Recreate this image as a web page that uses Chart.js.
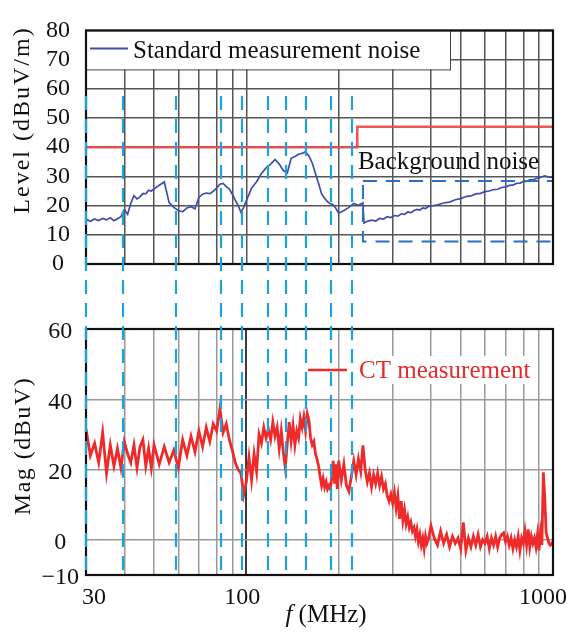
<!DOCTYPE html>
<html>
<head>
<meta charset="utf-8">
<script src="https://cdn.jsdelivr.net/npm/chart.js@4.4.1/dist/chart.umd.min.js"></script>
<style>
  html, body { margin: 0; padding: 0; background: #fff; }
  #wrap { position: relative; width: 571px; height: 633px; }
  #levelCanvas { position: absolute; left: 0; top: 0; }
  #magCanvas { position: absolute; left: 0; top: 300px; }
</style>
</head>
<body>
<div id="wrap">
  <canvas id="levelCanvas" width="571" height="300"></canvas>
  <canvas id="magCanvas" width="571" height="333"></canvas>
</div>
<script>
// ---- Standard measurement noise (dBuV/m) ----
const noiseFreq = [
  30, 31, 32, 33, 34, 35, 36, 37, 38, 39, 40, 41, 42, 43, 44, 45, 46, 47, 48, 49, 50,
  52, 54, 56, 58, 60, 62, 64, 66, 68, 70, 72, 74, 76, 78, 80, 82, 84, 86, 88, 90, 92, 94, 96, 98, 100,
  104, 108, 112, 116, 120, 124, 128, 132, 136, 140, 144, 148, 152, 156, 160, 164, 168, 172, 176, 180, 184, 188, 192, 196, 200,
  208, 216, 224, 232, 240, 242, 248, 256, 264, 272, 280, 288, 296, 304, 312, 320, 328, 336, 344, 352, 360, 368, 376, 384, 392, 400,
  420, 440, 460, 480, 500, 520, 540, 560, 580, 600, 620, 640, 660, 680, 700, 720, 740, 760, 780, 800, 820, 840, 860, 880, 900, 920, 940, 960, 980, 1000
];
const noiseLevel = [
  15.3, 14.6, 15.4, 14.9, 15.6, 15.1, 15.8, 14.8, 15.5, 16.2, 18.6, 17.0, 20.8, 23.4, 22.3, 23.0, 24.2, 24.0, 25.3, 25.0, 25.7,
  27.0, 28.1, 21.0, 19.4, 18.3, 17.9, 19.2, 19.6, 18.9, 22.8, 23.9, 24.3, 24.1, 24.9, 26.0, 27.3, 27.6, 26.5, 25.7, 23.9, 21.9, 20.1, 17.7, 19.4, 21.7,
  26.0, 28.2, 31.0, 32.9, 34.2, 35.8, 34.2, 32.0, 31.2, 36.2, 36.8, 37.6, 37.9, 38.4, 37.0, 34.6, 31.0, 27.6, 24.0, 22.5, 21.3, 20.6, 20.3, 19.0, 17.4,
  18.3, 19.4, 20.7, 20.1, 20.9, 14.0, 14.6, 15.0, 14.7, 15.6, 15.4, 16.2, 15.9, 16.6, 16.4, 17.2, 17.0, 17.8, 17.6, 18.3, 18.7, 18.5, 19.2, 19.0, 19.7, 19.8,
  20.3, 20.9, 21.2, 22.0, 22.4, 23.1, 23.3, 24.0, 24.2, 24.8, 25.0, 25.5, 25.6, 26.2, 26.4, 26.9, 27.0, 27.6, 27.7, 28.2, 28.3, 28.8, 28.8, 29.3, 29.5, 29.9, 30.2, 29.9, 29.7, 29.6
];

// ---- Radiated limit (dBuV/m) ----
const limitFreq = [30, 230, 230, 1000];
const limitLevel = [40, 40, 47, 47];

// ---- Background-noise window ----
const bgBoxFreq = [240, 1000];
const bgBoxLevel = [7.7, 28.4];

// ---- CT measurement (dBuV) ----
const ctFreq = [
  30, 31, 32, 33, 34, 35, 36, 37, 38, 39, 40, 41, 42, 43, 44, 45, 46, 47, 48, 49, 50,
  52, 54, 56, 58, 60, 62, 64, 66, 68, 70, 72, 74, 76, 78, 80, 82, 84, 86, 88, 90, 92, 94, 96, 98, 100,
  102, 104, 106, 108, 110, 112, 114, 116, 118, 120, 122, 124, 126, 128, 130, 132, 134, 136, 138, 140, 142, 144, 146, 148, 150,
  152, 154, 156, 158, 160, 162, 164, 166, 168, 170, 172, 174, 176, 178, 180, 182, 184, 186, 188, 190, 192, 194, 196, 198, 200,
  204, 208, 212, 216, 220, 224, 228, 232, 236, 240, 244, 248, 252, 256, 260, 264, 268, 272, 276, 280, 284, 288, 292, 296, 300,
  304, 308, 312, 316, 320, 324, 328, 332, 336, 340, 344, 348, 352, 356, 360, 364, 368, 372, 376, 380, 384, 388, 392, 396, 400,
  410, 420, 430, 440, 450, 460, 470, 480, 490, 500, 510, 520, 530, 540, 550, 560, 570, 580, 590, 600,
  610, 620, 630, 640, 650, 660, 670, 680, 690, 700, 710, 720, 730, 740, 750, 760, 770, 780, 790, 800,
  810, 820, 830, 840, 850, 860, 870, 880, 890, 900, 910, 920, 930, 940, 950, 960, 970, 980, 990, 1000
];
const ctMag = [
  31.5, 24.0, 27.5, 22.0, 30.5, 19.0, 27.0, 21.0, 26.0, 20.5, 28.0, 24.5, 22.0, 27.0, 20.5, 26.5, 28.5, 21.0, 26.0, 20.5, 27.0,
  21.5, 26.5, 22.0, 25.5, 20.5, 28.5, 24.0, 29.5, 25.0, 31.0, 26.5, 32.0, 28.0, 33.0, 31.0, 37.3, 30.5, 33.0, 28.5, 25.5, 22.0, 20.0, 19.0, 12.8, 16.5,
  23.5, 17.0, 24.5, 19.5, 30.0, 27.5, 32.0, 29.0, 31.5, 28.5, 33.5, 29.5, 32.0, 26.0, 31.0, 25.0, 20.5, 27.5, 33.5, 28.0, 32.5, 27.0, 31.0, 29.0, 34.5,
  32.0, 35.0, 31.0, 35.9, 34.0, 29.0, 27.0, 28.0, 24.5, 23.0, 21.0, 18.0, 15.5, 17.5, 15.0, 16.5, 14.5, 15.5, 14.5, 18.0, 22.5, 16.0, 21.5, 14.5, 22.5,
  17.0, 21.5, 15.5, 13.8, 18.0, 22.5, 18.5, 23.0, 19.5, 26.9, 20.0, 16.5, 19.0, 15.0, 18.5, 16.0, 19.0, 15.5, 18.0, 14.5, 16.0, 12.5, 11.0, 13.0, 10.5,
  13.5, 9.0, 12.5, 6.0, 11.0, 5.5, 8.5, 4.5, 6.5, 3.5, 5.0, 2.5, 3.5, 1.0, 3.0, -0.5, 1.5, -1.5, 0.5, -2.5, 1.0, -1.0, 0.0, 2.0, 4.0,
  0.5, -1.5, 2.5, -1.0, 1.5, -2.0, 1.0, -1.0, 0.5, -2.5, 5.0, -3.0, 0.5, -2.0, 1.0, -1.5, 1.5, -2.0, 0.0, -1.0,
  1.0, -2.5, 0.5, -1.5, 1.0, -2.0, 0.5, 1.5, 2.0, -0.5, 1.0, -1.5, 0.5, -2.5, 0.0, -2.0, 1.0, -3.0, 0.5, -1.0,
  2.5, -1.5, 3.0, -2.0, 1.0, -1.0, 0.5, -2.0, 1.5, -3.0, 2.0, -1.5, 19.2, 12.0, 2.0, 0.5, -1.0, -1.5, -1.0, -1.5
];

// ---- Marker frequencies shared by both panels (MHz) ----
const markerFreq = [30, 39.7, 58.8, 82.5, 96.6, 117.4, 134.4, 156.2, 188.5, 220.5];
const markerTopLevel = 57.5;

// ---- Axes ----
const gridFreq = [40, 50, 60, 70, 80, 90, 100, 200, 300, 400, 500, 600, 700, 800, 900];
const freqTickLabels = [30, 100, 1000];
const levelTicks = [0, 10, 20, 30, 40, 50, 60, 70, 80];
const magTicks = [-10, 0, 20, 40, 60];

const SERIF = '"Liberation Serif", "Times New Roman", serif';
const MARKER_COLOR = '#1ea2dc';
const MARKER_DASH = [14, 9];

function pts(xs, ys) { return xs.map((v, i) => ({ x: v, y: ys[i] })); }
function minusLabel(v) { return v < 0 ? '\u2212' + Math.abs(v) : String(v); }

function drawFrame(ctx, a) {
  ctx.save();
  ctx.setLineDash([]);
  ctx.strokeStyle = '#111';
  ctx.lineWidth = 2.2;
  ctx.strokeRect(a.left, a.top, a.right - a.left, a.bottom - a.top);
  ctx.restore();
}

function drawMarkers(ctx, xScale, y0, y1, offset) {
  ctx.save();
  ctx.strokeStyle = MARKER_COLOR;
  ctx.lineWidth = 2.2;
  ctx.setLineDash(MARKER_DASH);
  ctx.lineDashOffset = offset;
  markerFreq.forEach(f => {
    const px = Math.round(xScale.getPixelForValue(f));
    ctx.beginPath();
    ctx.moveTo(px, y0);
    ctx.lineTo(px, y1);
    ctx.stroke();
  });
  ctx.restore();
}

function drawVerticalTitle(ctx, text, cx, cy, spacing) {
  ctx.save();
  ctx.translate(cx, cy);
  ctx.rotate(-Math.PI / 2);
  ctx.font = '24px ' + SERIF;
  ctx.letterSpacing = spacing;
  ctx.fillStyle = '#111';
  ctx.textAlign = 'center';
  ctx.textBaseline = 'middle';
  ctx.fillText(text, 0, 0);
  ctx.restore();
}

// Upper panel decorations: noise window, legend, frame, markers
const levelDecor = {
  id: 'levelDecor',
  afterDatasetsDraw(chart) {
    const { ctx, chartArea: a, scales: { x, y } } = chart;
    ctx.save();

    // background-noise window
    const bx0 = x.getPixelForValue(bgBoxFreq[0]);
    const bx1 = x.getPixelForValue(bgBoxFreq[1]);
    const by0 = y.getPixelForValue(bgBoxLevel[1]);
    const by1 = y.getPixelForValue(bgBoxLevel[0]);
    ctx.strokeStyle = '#2a6fc0';
    ctx.lineWidth = 2;
    ctx.setLineDash([14, 9]);
    ctx.strokeRect(bx0, by0, bx1 - bx0, by1 - by0);
    ctx.setLineDash([]);

    ctx.fillStyle = '#111';
    ctx.font = '25px ' + SERIF;
    ctx.textAlign = 'left';
    ctx.textBaseline = 'middle';
    ctx.fillText('Background noise', bx0 - 5, y.getPixelForValue(34.8));

    // legend box
    const lw = 364, lh = 39;
    ctx.fillStyle = '#fff';
    ctx.fillRect(a.left, a.top, lw, lh);
    ctx.strokeStyle = '#444';
    ctx.lineWidth = 1;
    ctx.strokeRect(a.left + 0.5, a.top + 0.5, lw, lh);
    ctx.strokeStyle = chart.data.datasets[0].borderColor;
    ctx.lineWidth = 2;
    ctx.beginPath();
    ctx.moveTo(a.left + 4, a.top + 18);
    ctx.lineTo(a.left + 42, a.top + 18);
    ctx.stroke();
    ctx.fillStyle = '#111';
    ctx.font = '25px ' + SERIF;
    ctx.fillText(chart.data.datasets[0].label, a.left + 47, a.top + 21);

    ctx.restore();

    drawFrame(ctx, a);
    drawMarkers(ctx, x, y.getPixelForValue(markerTopLevel), chart.height, 0);

    drawVerticalTitle(ctx, 'Level (dBuV/m)', 23, 120, '2px');
  }
};

const levelChart = new Chart(document.getElementById('levelCanvas'), {
  type: 'line',
  data: {
    datasets: [
      {
        label: 'Standard measurement noise',
        data: pts(noiseFreq, noiseLevel),
        borderColor: '#3c50a8',
        borderWidth: 1.7,
        pointRadius: 0,
        tension: 0
      },
      {
        label: 'Limit',
        data: pts(limitFreq, limitLevel),
        borderColor: 'rgba(238,72,72,0.92)',
        borderWidth: 2.6,
        pointRadius: 0,
        tension: 0
      }
    ]
  },
  options: {
    responsive: false,
    animation: false,
    devicePixelRatio: 1,
    layout: { padding: { top: 16, right: 18, bottom: 36, left: 0 } },
    plugins: { legend: { display: false }, tooltip: { enabled: false } },
    scales: {
      x: {
        type: 'logarithmic', min: 30, max: 1000,
        afterBuildTicks: s => { s.ticks = gridFreq.map(v => ({ value: v })); },
        afterFit: s => { s.height = 0; },
        ticks: { display: false, autoSkip: false },
        grid: { color: '#555', lineWidth: 1.5, drawTicks: false },
        border: { display: false }
      },
      y: {
        min: 0, max: 80,
        afterBuildTicks: s => { s.ticks = levelTicks.map(v => ({ value: v })); },
        afterFit: s => { s.width = 86; },
        ticks: { font: { family: SERIF, size: 24 }, color: '#111', padding: 16, crossAlign: 'center', autoSkip: false, callback: minusLabel },
        grid: { color: '#555', lineWidth: 1.5, drawTicks: false },
        border: { display: false }
      }
    }
  },
  plugins: [levelDecor]
});

// Lower panel decorations: legend, frame, markers, frequency labels
const magDecor = {
  id: 'magDecor',
  afterDatasetsDraw(chart) {
    const { ctx, chartArea: a, scales: { x } } = chart;
    ctx.save();

    // legend entry
    ctx.font = '25px ' + SERIF;
    ctx.textAlign = 'left';
    ctx.textBaseline = 'middle';
    const label = chart.data.datasets[0].label;
    const tw = ctx.measureText(label).width;
    ctx.fillStyle = '#fff';
    ctx.fillRect(357, 56, tw + 4, 28);
    ctx.strokeStyle = chart.data.datasets[0].borderColor;
    ctx.lineWidth = 2.4;
    ctx.beginPath();
    ctx.moveTo(308, 70);
    ctx.lineTo(347, 70);
    ctx.stroke();
    ctx.fillStyle = '#e52b2b';
    ctx.fillText(label, 359, 71);
    ctx.restore();

    drawFrame(ctx, a);

    const topY = levelChart.scales.y.getPixelForValue(markerTopLevel);
    const period = MARKER_DASH[0] + MARKER_DASH[1];
    drawMarkers(ctx, x, 0, a.bottom, (levelChart.height - topY) % period);

    // frequency tick labels
    ctx.save();
    ctx.fillStyle = '#111';
    ctx.font = '24px ' + SERIF;
    ctx.textBaseline = 'middle';
    const align = ['left', 'center', 'right'];
    const shift = [-4, -4, 14];
    freqTickLabels.forEach((v, i) => {
      ctx.textAlign = align[i];
      ctx.fillText(String(v), x.getPixelForValue(v) + shift[i], a.bottom + 23);
    });

    // frequency axis title: italic f followed by unit
    ctx.font = 'italic 25px ' + SERIF;
    const w1 = ctx.measureText('f').width;
    ctx.font = '25px ' + SERIF;
    const w2 = ctx.measureText(' (MHz)').width;
    const sx = 326 - (w1 + w2) / 2;
    ctx.textAlign = 'left';
    ctx.font = 'italic 25px ' + SERIF;
    ctx.fillText('f', sx, a.bottom + 40);
    ctx.font = '25px ' + SERIF;
    ctx.fillText(' (MHz)', sx + w1, a.bottom + 40);
    ctx.restore();

    drawVerticalTitle(ctx, 'Mag (dBuV)', 24, 146, '1.5px');
  }
};

new Chart(document.getElementById('magCanvas'), {
  type: 'line',
  data: {
    datasets: [
      {
        label: 'CT measurement',
        data: pts(ctFreq, ctMag),
        borderColor: '#ee2a2a',
        borderWidth: 2.8,
        pointRadius: 0,
        tension: 0
      }
    ]
  },
  options: {
    responsive: false,
    animation: false,
    devicePixelRatio: 1,
    layout: { padding: { top: 29, right: 18, bottom: 0, left: 0 } },
    plugins: { legend: { display: false }, tooltip: { enabled: false } },
    scales: {
      x: {
        type: 'logarithmic', min: 30, max: 1000,
        afterBuildTicks: s => { s.ticks = gridFreq.map(v => ({ value: v })); },
        afterFit: s => { s.height = 58; },
        ticks: { display: false, autoSkip: false },
        grid: {
          color: c => (c.tick && c.tick.value === 100 ? '#3a3a3a' : '#9a9a9a'),
          lineWidth: c => (c.tick && c.tick.value === 100 ? 2 : 1.5),
          drawTicks: false
        },
        border: { display: false }
      },
      y: {
        min: -10, max: 60,
        afterBuildTicks: s => { s.ticks = magTicks.map(v => ({ value: v })); },
        afterFit: s => { s.width = 86; },
        ticks: { font: { family: SERIF, size: 24 }, color: '#111', padding: 7, crossAlign: 'center', labelOffset: 3, autoSkip: false, callback: minusLabel },
        grid: { color: '#9a9a9a', lineWidth: 1.5, drawTicks: false },
        border: { display: false }
      }
    }
  },
  plugins: [magDecor]
});
</script>
</body>
</html>
